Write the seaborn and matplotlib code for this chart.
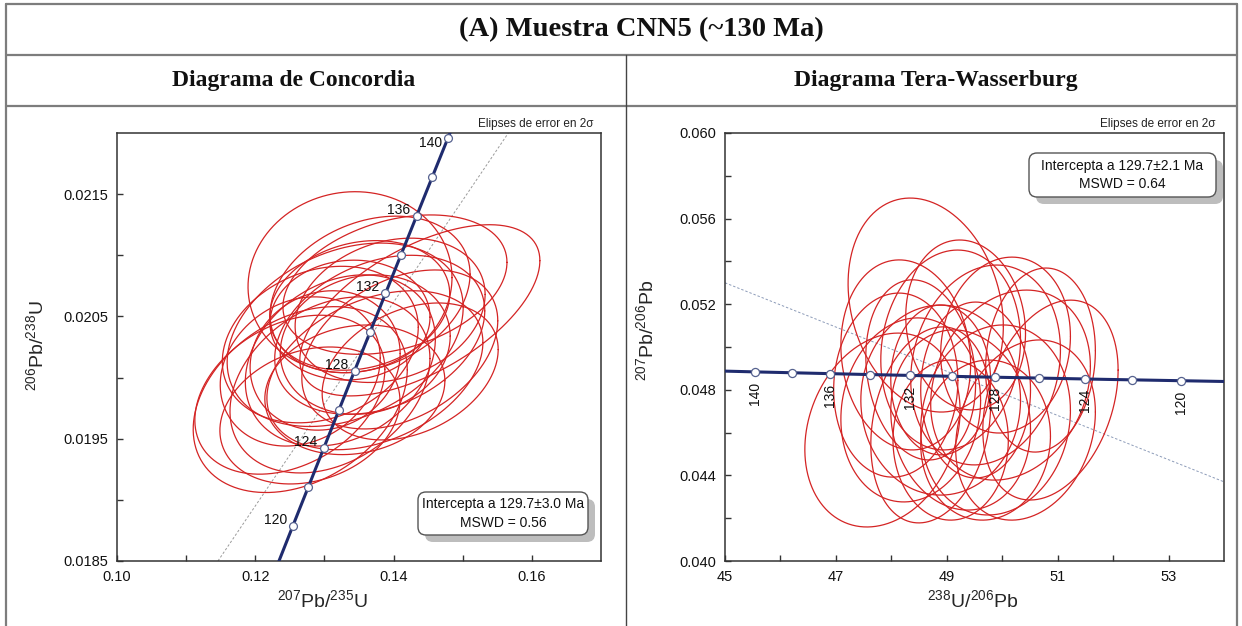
import numpy as np
import matplotlib
matplotlib.use("Agg")
import matplotlib.pyplot as plt
import matplotlib.transforms as mtransforms
from matplotlib.patches import FancyBboxPatch
from matplotlib.lines import Line2D
from matplotlib.ticker import FixedLocator, FormatStrFormatter
import seaborn as sns

# Decay constants (1/yr) and present-day 238U/235U
LAMBDA_238 = 1.55125e-10
LAMBDA_235 = 9.8485e-10
U_RATIO = 137.88

# Ages marked on the concordia curves (Ma)
marker_ages = [120, 122, 124, 126, 128, 130, 132, 134, 136, 138, 140]
labelled_ages = [120, 124, 128, 132, 136, 140]

# Wetherill concordia analyses: 207Pb/235U, 206Pb/238U, 2-sigma errors, error correlation
conc_x = [0.1337, 0.1438, 0.1402, 0.1265, 0.1294, 0.1351, 0.1380, 0.1323, 0.1359, 0.1308, 0.1409,
          0.1337, 0.1279, 0.1373, 0.1330, 0.1395, 0.1301, 0.1344, 0.1366, 0.1265, 0.1424, 0.1250]
conc_y = [0.02078, 0.02055, 0.02076, 0.01982, 0.02027, 0.02059, 0.02035, 0.02014, 0.02027, 0.01994, 0.02023,
          0.02047, 0.01969, 0.02006, 0.02035, 0.02055, 0.02014, 0.01990, 0.02068, 0.02005, 0.02005, 0.01986]
conc_sx = [0.01475, 0.01736, 0.01620, 0.01548, 0.01417, 0.01302, 0.01519, 0.01374, 0.01229, 0.01446, 0.01417,
           0.01157, 0.01302, 0.01562, 0.01707, 0.01374, 0.01085, 0.01302, 0.01446, 0.01157, 0.01273, 0.01374]
conc_sy = [0.00074, 0.00070, 0.00057, 0.00076, 0.00064, 0.00053, 0.00065, 0.00070, 0.00057, 0.00072, 0.00065,
           0.00049, 0.00056, 0.00065, 0.00075, 0.00059, 0.00057, 0.00053, 0.00064, 0.00061, 0.00056, 0.00065]
conc_rho = [0.05, 0.58, 0.32, 0.32, 0.22, 0.18, 0.30, 0.25, 0.12, 0.30, 0.36,
            0.05, 0.22, 0.35, 0.30, 0.22, 0.10, 0.14, 0.26, 0.18, 0.32, 0.32]

# Tera-Wasserburg analyses: 238U/206Pb, 207Pb/206Pb, 2-sigma errors, error correlation
tw_x = [47.84, 48.62, 49.07, 48.26, 49.70, 50.15, 50.87, 48.89, 49.25, 49.88, 48.71,
        48.08, 49.52, 48.53, 50.06, 49.34, 48.89, 50.42, 48.35, 49.70, 49.07, 50.69]
tw_y = [0.04612, 0.05196, 0.04986, 0.04963, 0.04916, 0.04822, 0.04752, 0.04752, 0.04659, 0.04659, 0.04636,
        0.04822, 0.04799, 0.04893, 0.05009, 0.05103, 0.04846, 0.04612, 0.04706, 0.04565, 0.04565, 0.04939]
tw_sx = [1.40, 1.40, 1.26, 1.17, 1.35, 1.44, 1.22, 1.44, 1.26, 1.35, 1.08,
         1.12, 0.99, 0.99, 1.17, 1.08, 0.90, 1.26, 1.26, 1.17, 1.04, 0.99]
tw_sy = [0.00453, 0.00500, 0.00467, 0.00444, 0.00467, 0.00444, 0.00467, 0.00444, 0.00421, 0.00444, 0.00458,
         0.00430, 0.00411, 0.00421, 0.00411, 0.00397, 0.00350, 0.00421, 0.00430, 0.00374, 0.00374, 0.00430]
tw_rho = [0.20, -0.20, 0.10, -0.10, 0.15, 0.20, 0.30, 0.00, -0.10, 0.10, 0.20,
          0.05, 0.00, -0.15, 0.10, -0.10, 0.00, 0.20, 0.10, 0.05, 0.00, 0.10]

# Reference (regression) lines
conc_ref_x = [0.1146, 0.1566]
conc_ref_y = [0.0185, 0.0220]
tw_ref_x = [45.0, 54.0]
tw_ref_y = [0.0530, 0.0437]

conc_box_text = "Intercepta a 129.7\u00b13.0 Ma\nMSWD = 0.56"
tw_box_text = "Intercepta a 129.7\u00b12.1 Ma\nMSWD = 0.64"
ellipse_note = "Elipses de error en 2\u03c3"

NAVY = "#1f2b6e"
RED = "#d42424"

sns.set_theme(style="ticks")
plt.rcParams["font.family"] = ["Liberation Sans", "DejaVu Sans"]
plt.rcParams["mathtext.default"] = "regular"
plt.rcParams["axes.linewidth"] = 1.1
plt.rcParams["axes.edgecolor"] = "#333333"

W, H = 1242, 626
fig = plt.figure(figsize=(W / 100, H / 100), dpi=100)
fig.patch.set_facecolor("white")


def axes_rect(x0, y0, x1, y1):
    return [x0 / W, 1 - y1 / H, (x1 - x0) / W, (y1 - y0) / H]


ax_c = fig.add_axes(axes_rect(117, 133, 601, 561))
ax_t = fig.add_axes(axes_rect(725, 133, 1224, 561))


def wetherill(age_ma):
    t = np.asarray(age_ma, dtype=float) * 1e6
    return np.expm1(LAMBDA_235 * t), np.expm1(LAMBDA_238 * t)


def tera_wasserburg(age_ma):
    r235, r238 = wetherill(age_ma)
    return 1.0 / r238, r235 / r238 / U_RATIO


def error_ellipse(cx, cy, sx, sy, rho, n=240):
    t = np.linspace(0, 2 * np.pi, n)
    x = cx + sx * np.cos(t)
    y = cy + sy * (rho * np.cos(t) + np.sqrt(1 - rho ** 2) * np.sin(t))
    return x, y


curve_ages = np.linspace(105, 155, 400)

# ---------------- Wetherill concordia ----------------
ax_c.plot(conc_ref_x, conc_ref_y, color="#9a9a9a", lw=0.7, ls=(0, (2.5, 2)), zorder=1)
for cx, cy, sx, sy, r in zip(conc_x, conc_y, conc_sx, conc_sy, conc_rho):
    ex, ey = error_ellipse(cx, cy, sx, sy, r)
    ax_c.plot(ex, ey, color=RED, lw=0.9, zorder=2)
cvx, cvy = wetherill(curve_ages)
sns.lineplot(x=cvx, y=cvy, sort=False, estimator=None, ax=ax_c, color=NAVY, lw=2.2, zorder=3)
mx, my = wetherill(marker_ages)
sns.scatterplot(x=mx, y=my, ax=ax_c, s=32, color="white", edgecolor="#56628f", linewidth=0.9, zorder=4)
for age in labelled_ages:
    ax_, ay_ = wetherill(age)
    dy = -5 if age == max(labelled_ages) else 6
    ax_c.annotate(str(age), (ax_, ay_), xytext=(-6, dy), textcoords="offset pixels",
                  ha="right", va="center", fontsize=10, color="#111111", zorder=5)

ax_c.set_xlim(0.10, 0.17)
ax_c.set_ylim(0.0185, 0.0220)
ax_c.xaxis.set_major_locator(FixedLocator([0.10, 0.12, 0.14, 0.16]))
ax_c.xaxis.set_minor_locator(FixedLocator([0.11, 0.13, 0.15]))
ax_c.yaxis.set_major_locator(FixedLocator([0.0185, 0.0195, 0.0205, 0.0215]))
ax_c.yaxis.set_minor_locator(FixedLocator([0.0190, 0.0200, 0.0210]))
ax_c.xaxis.set_major_formatter(FormatStrFormatter("%.2f"))
ax_c.yaxis.set_major_formatter(FormatStrFormatter("%.4f"))
ax_c.set_xlabel(r"$^{207}$Pb/$^{235}$U", fontsize=14)
ax_c.set_ylabel(r"$^{206}$Pb/$^{238}$U", fontsize=14)
ax_c.xaxis.set_label_coords((322 - 117) / 484, (561 - 589) / 428)
ax_c.yaxis.set_label_coords((47 - 117) / 484, (561 - 346) / 428)
ax_c.text(1 - 7 / 484, 1 + 9 / 428, ellipse_note, transform=ax_c.transAxes,
          ha="right", va="center", fontsize=8.5, color="#222222")

# ---------------- Tera-Wasserburg ----------------
ax_t.plot(tw_ref_x, tw_ref_y, color="#8c9bb8", lw=0.7, ls=(0, (2.5, 2)), zorder=1)
for cx, cy, sx, sy, r in zip(tw_x, tw_y, tw_sx, tw_sy, tw_rho):
    ex, ey = error_ellipse(cx, cy, sx, sy, r)
    ax_t.plot(ex, ey, color=RED, lw=0.9, zorder=2)
tvx, tvy = tera_wasserburg(curve_ages)
sns.lineplot(x=tvx, y=tvy, sort=False, estimator=None, ax=ax_t, color=NAVY, lw=2.2, zorder=3)
tmx, tmy = tera_wasserburg(marker_ages)
sns.scatterplot(x=tmx, y=tmy, ax=ax_t, s=34, color="white", edgecolor="#56628f", linewidth=0.9, zorder=4)
for age in labelled_ages:
    ax_, ay_ = tera_wasserburg(age)
    ax_t.annotate(str(age), (ax_, ay_), xytext=(0, -10), textcoords="offset pixels",
                  ha="center", va="top", rotation=90, fontsize=10, color="#111111", zorder=5)

ax_t.set_xlim(45, 54)
ax_t.set_ylim(0.040, 0.060)
ax_t.xaxis.set_major_locator(FixedLocator([45, 47, 49, 51, 53]))
ax_t.xaxis.set_minor_locator(FixedLocator([46, 48, 50, 52]))
ax_t.yaxis.set_major_locator(FixedLocator([0.040, 0.044, 0.048, 0.052, 0.056, 0.060]))
ax_t.yaxis.set_minor_locator(FixedLocator([0.042, 0.046, 0.050, 0.054, 0.058]))
ax_t.xaxis.set_major_formatter(FormatStrFormatter("%d"))
ax_t.yaxis.set_major_formatter(FormatStrFormatter("%.3f"))
ax_t.set_xlabel(r"$^{238}$U/$^{206}$Pb", fontsize=14)
ax_t.set_ylabel(r"$^{207}$Pb/$^{206}$Pb", fontsize=14)
ax_t.xaxis.set_label_coords((973 - 725) / 499, (561 - 589) / 428)
ax_t.yaxis.set_label_coords((657 - 725) / 499, (561 - 330) / 428)
ax_t.text(1 - 9 / 499, 1 + 9 / 428, ellipse_note, transform=ax_t.transAxes,
          ha="right", va="center", fontsize=8.5, color="#222222")

for ax in (ax_c, ax_t):
    ax.tick_params(which="both", direction="in", length=4, width=1, color="#333333",
                   labelsize=10.5, labelcolor="#111111", pad=6.5)
    ax.grid(False)
    for sp in ax.spines.values():
        sp.set_visible(True)
        sp.set_color("#333333")
        sp.set_linewidth(1.1)

# ---------------- Result boxes with drop shadow ----------------
px_tr = mtransforms.Affine2D().scale(1 / W, 1 / H) + fig.transFigure


def info_box(x0, y0, x1, y1, text):
    w, h = x1 - x0, y1 - y0
    shadow = FancyBboxPatch((x0 + 7, H - y1 - 7), w, h, boxstyle="round,pad=0,rounding_size=8",
                            transform=px_tr, fc="#bdbdbd", ec="none", zorder=6)
    box = FancyBboxPatch((x0, H - y1), w, h, boxstyle="round,pad=0,rounding_size=8",
                         transform=px_tr, fc="white", ec="#555555", lw=1.0, zorder=7)
    fig.add_artist(shadow)
    fig.add_artist(box)
    fig.text((x0 + x1) / 2 / W, 1 - (y0 + y1) / 2 / H, text, ha="center", va="center",
             fontsize=10, linespacing=1.4, color="#111111", zorder=8)


info_box(418, 492, 588, 535, conc_box_text)
info_box(1029, 153, 1216, 197, tw_box_text)

# ---------------- Table frame and headers ----------------
def hline(y, x0, x1, color="#7d7d7d", lw=1.6):
    fig.add_artist(Line2D([x0 / W, x1 / W], [1 - y / H, 1 - y / H], transform=fig.transFigure,
                          color=color, lw=lw, zorder=10))


def vline(x, y0, y1, color="#7d7d7d", lw=1.6):
    fig.add_artist(Line2D([x / W, x / W], [1 - y0 / H, 1 - y1 / H], transform=fig.transFigure,
                          color=color, lw=lw, zorder=10))


hline(4, 6, 1237)
hline(55, 6, 1237)
hline(106, 6, 1237)
vline(6, 4, 626)
vline(1237, 4, 626)
vline(626, 55, 626, color="#444444", lw=1.0)

serif = ["Liberation Serif", "DejaVu Serif"]
fig.text(641 / W, 1 - 29.5 / H, "(A) Muestra CNN5 (~130 Ma)", ha="center", va="center",
         fontsize=20.5, fontweight="bold", family=serif, color="#111111")
fig.text(294 / W, 1 - 80.5 / H, "Diagrama de Concordia", ha="center", va="center",
         fontsize=17, fontweight="bold", family=serif, color="#111111")
fig.text(936 / W, 1 - 80.5 / H, "Diagrama Tera-Wasserburg", ha="center", va="center",
         fontsize=17, fontweight="bold", family=serif, color="#111111")

fig.savefig("out.png", dpi=100, facecolor="white")
